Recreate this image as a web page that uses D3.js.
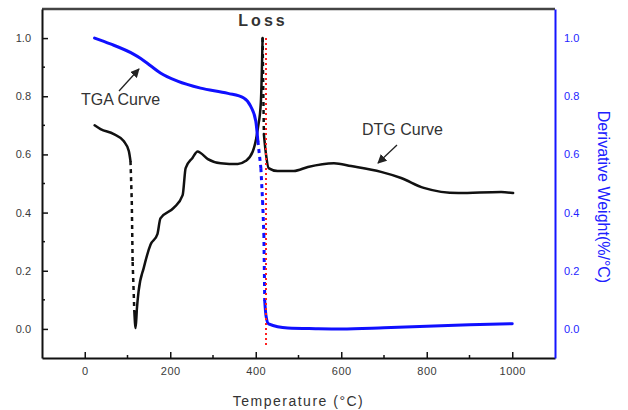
<!DOCTYPE html>
<html>
<head>
<meta charset="utf-8">
<script src="https://cdn.jsdelivr.net/npm/d3@7"></script>
<style>
  body { margin: 0; background: #fff; }
  text { font-family: Arial, "Liberation Sans", sans-serif; }
</style>
</head>
<body>
<svg id="chart" width="628" height="410"></svg>
<script>
// temperature (C) and normalised weight for the TGA curve
var tgaTemp = [23, 60, 114, 131, 154, 177, 217, 271, 335, 372, 388, 400, 405, 412, 416, 419, 421, 424, 430, 475, 540, 600, 700, 800, 900, 1000];
var tgaWeight = [1.0, 0.98, 0.945, 0.93, 0.905, 0.88, 0.852, 0.828, 0.81, 0.794, 0.766, 0.715, 0.646, 0.553, 0.44, 0.326, 0.096, 0.045, 0.017, 0.003, 0.001, 0.0, 0.004, 0.009, 0.014, 0.018];

// DTG curve
var dtgTemp = [23, 37, 68, 91, 103, 107, 110, 112, 116, 119, 122, 126, 138, 154, 170, 177, 208, 229, 236, 252, 264, 271, 288, 318, 358, 376, 393, 405, 412, 416, 419, 424, 430, 451, 489, 522, 583, 623, 693, 740, 793, 874, 974, 1002];
var dtgValue = [0.70, 0.687, 0.67, 0.646, 0.612, 0.577, 0.44, 0.23, 0.06, 0.003, 0.07, 0.13, 0.21, 0.29, 0.326, 0.38, 0.416, 0.46, 0.553, 0.588, 0.61, 0.605, 0.584, 0.57, 0.567, 0.577, 0.61, 0.69, 0.78, 1.0, 0.67, 0.6, 0.553, 0.543, 0.543, 0.557, 0.57, 0.56, 0.54, 0.519, 0.485, 0.467, 0.471, 0.467];

var xTicks = [0, 200, 400, 600, 800, 1000];
var xMinor = [100, 300, 500, 700, 900];
var yTicks = [0.0, 0.2, 0.4, 0.6, 0.8, 1.0];
var yMinor = [0.1, 0.3, 0.5, 0.7, 0.9];
var lossTemp = 424;

var plot = { left: 42, right: 555, top: 9, bottom: 358 };

var svg = d3.select("#chart");

var x = d3.scaleLinear().domain([-100, 1100]).range([plot.left, plot.right]);
var y = d3.scaleLinear().domain([-0.1, 1.1]).range([plot.bottom, plot.top]);

// frame
svg.append("line")
  .attr("x1", plot.left).attr("x2", plot.right)
  .attr("y1", plot.top).attr("y2", plot.top)
  .attr("stroke", "#444").attr("stroke-width", 2.5);

// bottom axis, ticks inside
var xAxis = svg.append("g")
  .attr("transform", "translate(0," + plot.bottom + ")")
  .call(d3.axisBottom(x).tickValues(xTicks).tickFormat(d3.format("d")).tickSizeInner(-6).tickSizeOuter(0).tickPadding(9));
xAxis.select(".domain").attr("stroke", "#111").attr("stroke-width", 2);
xAxis.selectAll(".tick line").attr("stroke", "#111").attr("stroke-width", 1.5);
xAxis.selectAll(".tick text")
  .attr("fill", "#3a3a3a").style("font-size", "11px").attr("letter-spacing", 0.5);

xAxis.selectAll(".minor")
  .data(xMinor).enter().append("line")
  .attr("class", "minor")
  .attr("x1", function(d) { return x(d); }).attr("x2", function(d) { return x(d); })
  .attr("y1", 0).attr("y2", -3)
  .attr("stroke", "#111").attr("stroke-width", 1.5);

// left axis, ticks inside
var yAxis = svg.append("g")
  .attr("transform", "translate(" + plot.left + ",0)")
  .call(d3.axisLeft(y).tickValues(yTicks).tickFormat(d3.format(".1f")).tickSizeInner(-6).tickSizeOuter(0).tickPadding(11));
yAxis.select(".domain").attr("stroke", "#111").attr("stroke-width", 2);
yAxis.selectAll(".tick line").attr("stroke", "#111").attr("stroke-width", 1.5);
yAxis.selectAll(".tick text")
  .attr("fill", "#3a3a3a").style("font-size", "11px");

yAxis.selectAll(".minor")
  .data(yMinor).enter().append("line")
  .attr("class", "minor")
  .attr("x1", 0).attr("x2", 3)
  .attr("y1", function(d) { return y(d); }).attr("y2", function(d) { return y(d); })
  .attr("stroke", "#111").attr("stroke-width", 1.5);

// right axis (blue), no ticks
var yAxisRight = svg.append("g")
  .attr("transform", "translate(" + plot.right + ",0)")
  .call(d3.axisRight(y).tickValues(yTicks).tickFormat(d3.format(".1f")).tickSize(0).tickPadding(9));
yAxisRight.select(".domain").attr("stroke", "#1515ff").attr("stroke-width", 2);
yAxisRight.selectAll(".tick text")
  .attr("fill", "#2424ff").style("font-size", "11px");

// axis titles
svg.append("text")
  .attr("x", (plot.left + plot.right) / 2)
  .attr("y", 406)
  .attr("text-anchor", "middle")
  .attr("fill", "#333")
  .attr("letter-spacing", 1.5)
  .style("font-size", "14px")
  .text("Temperature (°C)");

svg.append("text")
  .attr("transform", "translate(598,197) rotate(90)")
  .attr("text-anchor", "middle")
  .attr("fill", "#2020ff")
  .style("font-size", "16px")
  .text("Derivative Weight(%/°C)");

// steep falling segments look dotted in the scan (sparse points), the rest is smooth
function steepDrop(a, b) {
  var dx = Math.abs(b[0] - a[0]);
  var dy = b[1] - a[1];
  return dy > 25 && dy > dx * 6;
}

var smooth = d3.line().curve(d3.curveMonotoneX);

function drawSeries(xs, ys, colour, width) {
  var pts = xs.map(function(d, i) { return [x(d), y(ys[i])]; });
  var runs = [], dashes = [], run = [pts[0]];
  d3.pairs(pts).forEach(function(p) {
    if (steepDrop(p[0], p[1])) {
      if (run.length > 1) runs.push(run);
      dashes.push(p);
      run = [p[1]];
    } else {
      run.push(p[1]);
    }
  });
  if (run.length > 1) runs.push(run);

  var g = svg.append("g");
  g.selectAll("path")
    .data(runs)
    .enter()
    .append("path")
    .attr("d", smooth)
    .attr("fill", "none")
    .attr("stroke", colour)
    .attr("stroke-width", width)
    .attr("stroke-linejoin", "round")
    .attr("stroke-linecap", "round");

  g.selectAll("line")
    .data(dashes)
    .enter()
    .append("line")
    .attr("x1", function(d) { return d[0][0]; })
    .attr("y1", function(d) { return d[0][1]; })
    .attr("x2", function(d) { return d[1][0]; })
    .attr("y2", function(d) { return d[1][1]; })
    .attr("stroke", colour)
    .attr("stroke-width", width)
    .attr("stroke-dasharray", "4,4");
}

drawSeries(dtgTemp, dtgValue, "#111", 2.5);
drawSeries(tgaTemp, tgaWeight, "#1010ff", 3);

// loss marker
svg.append("line")
  .attr("x1", x(lossTemp)).attr("x2", x(lossTemp))
  .attr("y1", y(1.0)).attr("y2", y(-0.06))
  .attr("stroke", "#ff2020")
  .attr("stroke-width", 2)
  .attr("stroke-dasharray", "2,3");

svg.append("text")
  .attr("x", x(lossTemp) - 3)
  .attr("y", 26)
  .attr("text-anchor", "middle")
  .attr("fill", "#333")
  .attr("font-weight", "bold")
  .attr("letter-spacing", 3)
  .style("font-size", "16px")
  .text("Loss");

// annotations
var defs = svg.append("defs");
defs.append("marker")
  .attr("id", "arrow")
  .attr("viewBox", "0 0 10 10")
  .attr("refX", 9).attr("refY", 5)
  .attr("markerWidth", 7).attr("markerHeight", 7)
  .attr("orient", "auto")
  .append("path")
  .attr("d", "M0,0 L10,5 L0,10 z")
  .attr("fill", "#222");

svg.append("text")
  .attr("x", 81).attr("y", 105)
  .attr("fill", "#333")
  .style("font-size", "16px")
  .text("TGA Curve");

svg.append("line")
  .attr("x1", 119).attr("y1", 91)
  .attr("x2", 139).attr("y2", 69)
  .attr("stroke", "#222").attr("stroke-width", 1.3)
  .attr("marker-end", "url(#arrow)");

svg.append("text")
  .attr("x", 362).attr("y", 135)
  .attr("fill", "#333")
  .style("font-size", "16px")
  .text("DTG Curve");

svg.append("line")
  .attr("x1", 397).attr("y1", 145)
  .attr("x2", 378).attr("y2", 163)
  .attr("stroke", "#222").attr("stroke-width", 1.3)
  .attr("marker-end", "url(#arrow)");
</script>
</body>
</html>
